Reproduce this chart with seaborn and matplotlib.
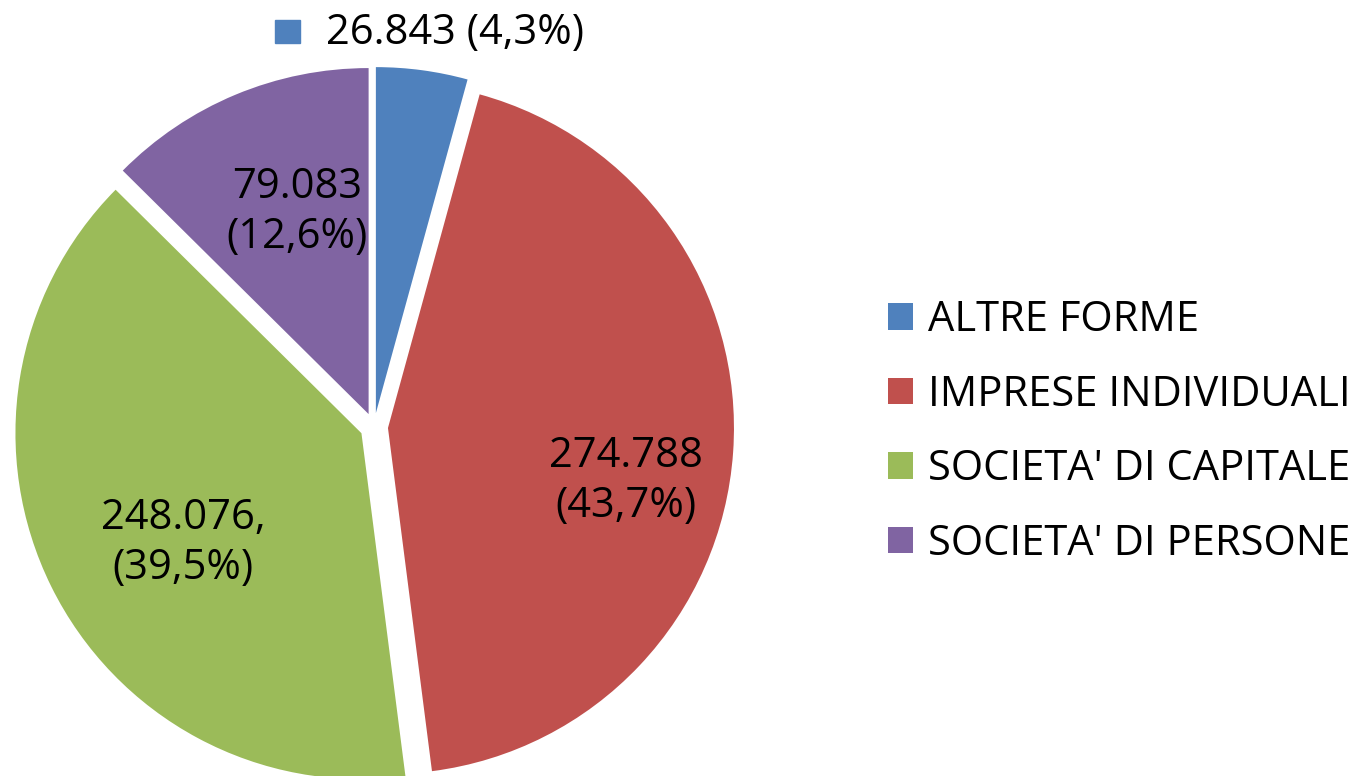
import numpy as np
import matplotlib.pyplot as plt
import seaborn as sns
from matplotlib.patches import Rectangle

# Data
categories = ['ALTRE FORME', 'IMPRESE INDIVIDUALI', "SOCIETA' DI CAPITALE", "SOCIETA' DI PERSONE"]
values = [26843, 274788, 248076, 79083]
labels = ['26.843 (4,3%)', '274.788\n(43,7%)', '248.076,\n(39,5%)', '79.083\n(12,6%)']
colors = ['#4F81BD', '#C0504D', '#9BBB59', '#8064A2']

sns.set_theme(style='white')
plt.rcParams['font.family'] = ['Open Sans', 'DejaVu Sans']

W, H = 1361, 776
fig = plt.figure(figsize=(W / 100, H / 100), dpi=100)
ax = fig.add_axes([0, 0, 1, 1])

# explode is in data units here (pixels)
wedges, _ = ax.pie(values, colors=colors, startangle=90, counterclock=False,
                   explode=[14] * 4, radius=346, center=(374, H - 427),
                   wedgeprops=dict(linewidth=0))
ax.set_xlim(0, W)
ax.set_ylim(0, H)
ax.set_aspect('equal')
ax.axis('off')

fs = 30
# data labels (pixel positions measured from top)
label_pos = [(455, 33), (626, 481), (183, 543), (297, 212)]
for lab, (x, y) in zip(labels, label_pos):
    ax.text(x, H - y, lab, ha='center', va='center', fontsize=fs,
            linespacing=1.25, color='black')
# legend key next to the small slice label
ax.add_patch(Rectangle((275, H - 43), 25, 23, color=colors[0], clip_on=False))

leg = ax.legend(wedges, categories, loc='center left', bbox_to_anchor=(888 / W, 1 - 432 / H),
                bbox_transform=fig.transFigure, frameon=False, fontsize=fs,
                handlelength=0.6, handleheight=0.6, handletextpad=0.35,
                labelspacing=0.78, borderpad=0, borderaxespad=0, labelcolor='black')

fig.savefig('out.png', dpi=100)
